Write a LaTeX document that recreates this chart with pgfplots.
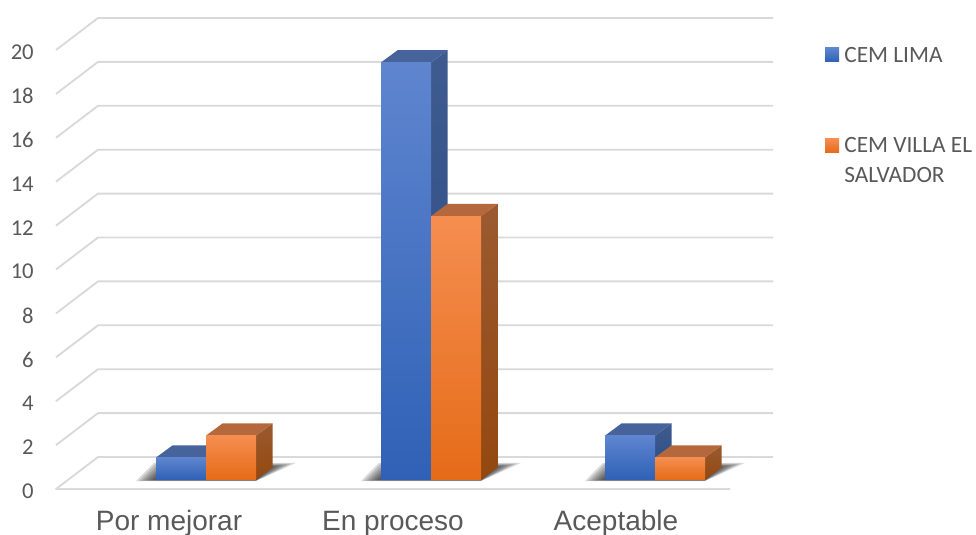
\documentclass[border=0pt]{standalone}
\usepackage{fontspec}
\setmainfont{Carlito}
\newfontfamily\arialfont{Liberation Sans}
\usepackage{pgfplots}
\usepackage{pgfplotstable}
\pgfplotsset{compat=1.18}

\definecolor{gridc}{HTML}{D9D9D9}
\definecolor{textc}{HTML}{595959}
\definecolor{blueT}{HTML}{5F85CF}
\definecolor{blueB}{HTML}{2F61B6}
\definecolor{blueSideT}{HTML}{3F5B8F}
\definecolor{blueSideB}{HTML}{2B4C86}
\definecolor{blueTop}{HTML}{46639C}
\definecolor{orangeT}{HTML}{F58E50}
\definecolor{orangeB}{HTML}{E56B18}
\definecolor{orangeSideT}{HTML}{9A5A30}
\definecolor{orangeSideB}{HTML}{94480F}
\definecolor{orangeTop}{HTML}{B5683C}

% Floor shadow: nested layers, each inset a little, relative to a group's left edge
\pgfplotstableread{
xa   ya     xb   yb     xc   yc     xd   yd     xe   ye     xf   yf     xg   yg     xh   yh
-20  -0.07  -17  -0.06  -14  -0.05  -11  -0.05  -8   -0.04  -5   -0.04  -2   -0.03  1    -0.03
100  -0.07  100  -0.06  100  -0.05  100  -0.05  100  -0.04  100  -0.04  100  -0.03  100  -0.03
140  0.76   135  0.72   131  0.69   127  0.66   123  0.63   119  0.60   116  0.57   113  0.54
-2   0.76   0    0.72   3    0.69   6    0.66   9    0.63   12   0.60   15   0.57   18   0.54
}\shadowtable
\newcommand{\shadowlayer}[2]{%
  \addplot[draw=none,fill=black,fill opacity=0.15,forget plot]
    table[x expr=\thisrow{x#2}+#1,y=y#2] {\shadowtable} -- cycle;}
\newcommand{\floorshadow}[1]{%
  \shadowlayer{#1}{a}\shadowlayer{#1}{b}\shadowlayer{#1}{c}\shadowlayer{#1}{d}%
  \shadowlayer{#1}{e}\shadowlayer{#1}{f}\shadowlayer{#1}{g}\shadowlayer{#1}{h}}

\pgfplotsset{
  grid wall/.style={gridc,line width=1.4pt,line join=round,forget plot},
  blue side/.style={draw=none,top color=blueSideT,bottom color=blueSideB,forget plot},
  blue cap/.style={draw=none,fill=blueTop,forget plot},
  blue front/.style={ybar,bar shift=0pt,bar width=37.5pt,draw=none,
    top color=blueT,bottom color=blueB},
  orange side/.style={draw=none,top color=orangeSideT,bottom color=orangeSideB,forget plot},
  orange cap/.style={draw=none,fill=orangeTop,forget plot},
  orange front/.style={ybar,bar shift=0pt,bar width=37.5pt,draw=none,
    top color=orangeT,bottom color=orangeB},
}

\begin{document}
\begin{tikzpicture}
\path[use as bounding box] (0,0) rectangle (732pt,401.25pt);
\begin{axis}[
  scale only axis,
  width=732pt,height=401.25pt,
  xmin=0,xmax=976,
  ymin=-2.528,ymax=21.845,
  clip=false,
  axis line style={draw=none},
  major tick length=0pt,
  tick style={draw=none},
  xtick={169,393,616},
  xticklabels={Por mejorar,En proceso,Aceptable},
  xticklabel style={anchor=base,yshift=3.4pt,inner sep=0pt,text=textc,
    font=\arialfont\fontsize{21}{24}\selectfont},
  ytick={-0.433,1.567,3.567,5.567,7.567,9.567,11.567,13.567,15.567,17.567,19.567},
  yticklabels={0,2,4,6,8,10,12,14,16,18,20},
  yticklabel style={anchor=east,xshift=25.5pt,yshift=-1.6pt,inner sep=0pt,text=textc,
    font=\fontsize{17}{20}\selectfont},
  legend style={at={(axis cs:825,19.71)},anchor=north west,draw=none,fill=none,
    inner sep=0pt,outer sep=0pt,row sep=55.2pt,
    font=\fontsize{17.5}{22.5}\selectfont,text=textc,
    nodes={inner sep=0pt,outer sep=0pt},
    cells={anchor=north west,align=left}},
]
% Floor and wall gridlines
\addplot[grid wall] coordinates {(730,-0.433)(56,-0.433)(98,1.025)(773,1.025)};
\addplot[grid wall] coordinates {(56,1.567)(98,3.025)(773,3.025)};
\addplot[grid wall] coordinates {(56,3.567)(98,5.025)(773,5.025)};
\addplot[grid wall] coordinates {(56,5.567)(98,7.025)(773,7.025)};
\addplot[grid wall] coordinates {(56,7.567)(98,9.025)(773,9.025)};
\addplot[grid wall] coordinates {(56,9.567)(98,11.025)(773,11.025)};
\addplot[grid wall] coordinates {(56,11.567)(98,13.025)(773,13.025)};
\addplot[grid wall] coordinates {(56,13.567)(98,15.025)(773,15.025)};
\addplot[grid wall] coordinates {(56,15.567)(98,17.025)(773,17.025)};
\addplot[grid wall] coordinates {(56,17.567)(98,19.025)(773,19.025)};
\addplot[grid wall] coordinates {(56,19.567)(98,21.025)(773,21.025)};

% Shadows on the floor
\floorshadow{156}
\floorshadow{381}
\floorshadow{605}

% CEM LIMA: sides and caps
\addplot[blue side] coordinates {(206,0)(222.7,0.56)(222.7,1.56)(206,1)} -- cycle;
\addplot[blue cap] coordinates {(156,1)(172.7,1.56)(222.7,1.56)(206,1)} -- cycle;
\addplot[blue side] coordinates {(431,0)(447.7,0.56)(447.7,19.56)(431,19)} -- cycle;
\addplot[blue cap] coordinates {(381,19)(397.7,19.56)(447.7,19.56)(431,19)} -- cycle;
\addplot[blue side] coordinates {(655,0)(671.7,0.56)(671.7,2.56)(655,2)} -- cycle;
\addplot[blue cap] coordinates {(605,2)(621.7,2.56)(671.7,2.56)(655,2)} -- cycle;
% CEM LIMA: front faces, one plot per bar so each carries its own gradient
\addplot[blue front,
  legend image code/.code={\fill[top color=blueT,bottom color=blueB,draw=none]
    (0pt,-11.2pt) rectangle (10.5pt,-0.7pt);}]
  coordinates {(181,1)};
\addlegendentry{\hspace{4pt}CEM LIMA}
\addplot[blue front,forget plot] coordinates {(406,19)};
\addplot[blue front,forget plot] coordinates {(630,2)};

% CEM VILLA EL SALVADOR: sides and caps
\addplot[orange side] coordinates {(256,0)(272.7,0.56)(272.7,2.56)(256,2)} -- cycle;
\addplot[orange cap] coordinates {(206,2)(222.7,2.56)(272.7,2.56)(256,2)} -- cycle;
\addplot[orange side] coordinates {(481,0)(497.7,0.56)(497.7,12.56)(481,12)} -- cycle;
\addplot[orange cap] coordinates {(431,12)(447.7,12.56)(497.7,12.56)(481,12)} -- cycle;
\addplot[orange side] coordinates {(705,0)(721.7,0.56)(721.7,1.56)(705,1)} -- cycle;
\addplot[orange cap] coordinates {(655,1)(671.7,1.56)(721.7,1.56)(705,1)} -- cycle;
% CEM VILLA EL SALVADOR: front faces
\addplot[orange front,
  legend image code/.code={\fill[top color=orangeT,bottom color=orangeB,draw=none]
    (0pt,-11.2pt) rectangle (10.5pt,-0.7pt);}]
  coordinates {(231,2)};
\addlegendentry{\hspace{4pt}CEM VILLA EL\\\hspace{4pt}SALVADOR}
\addplot[orange front,forget plot] coordinates {(456,12)};
\addplot[orange front,forget plot] coordinates {(680,1)};
\end{axis}
\end{tikzpicture}
\end{document}
